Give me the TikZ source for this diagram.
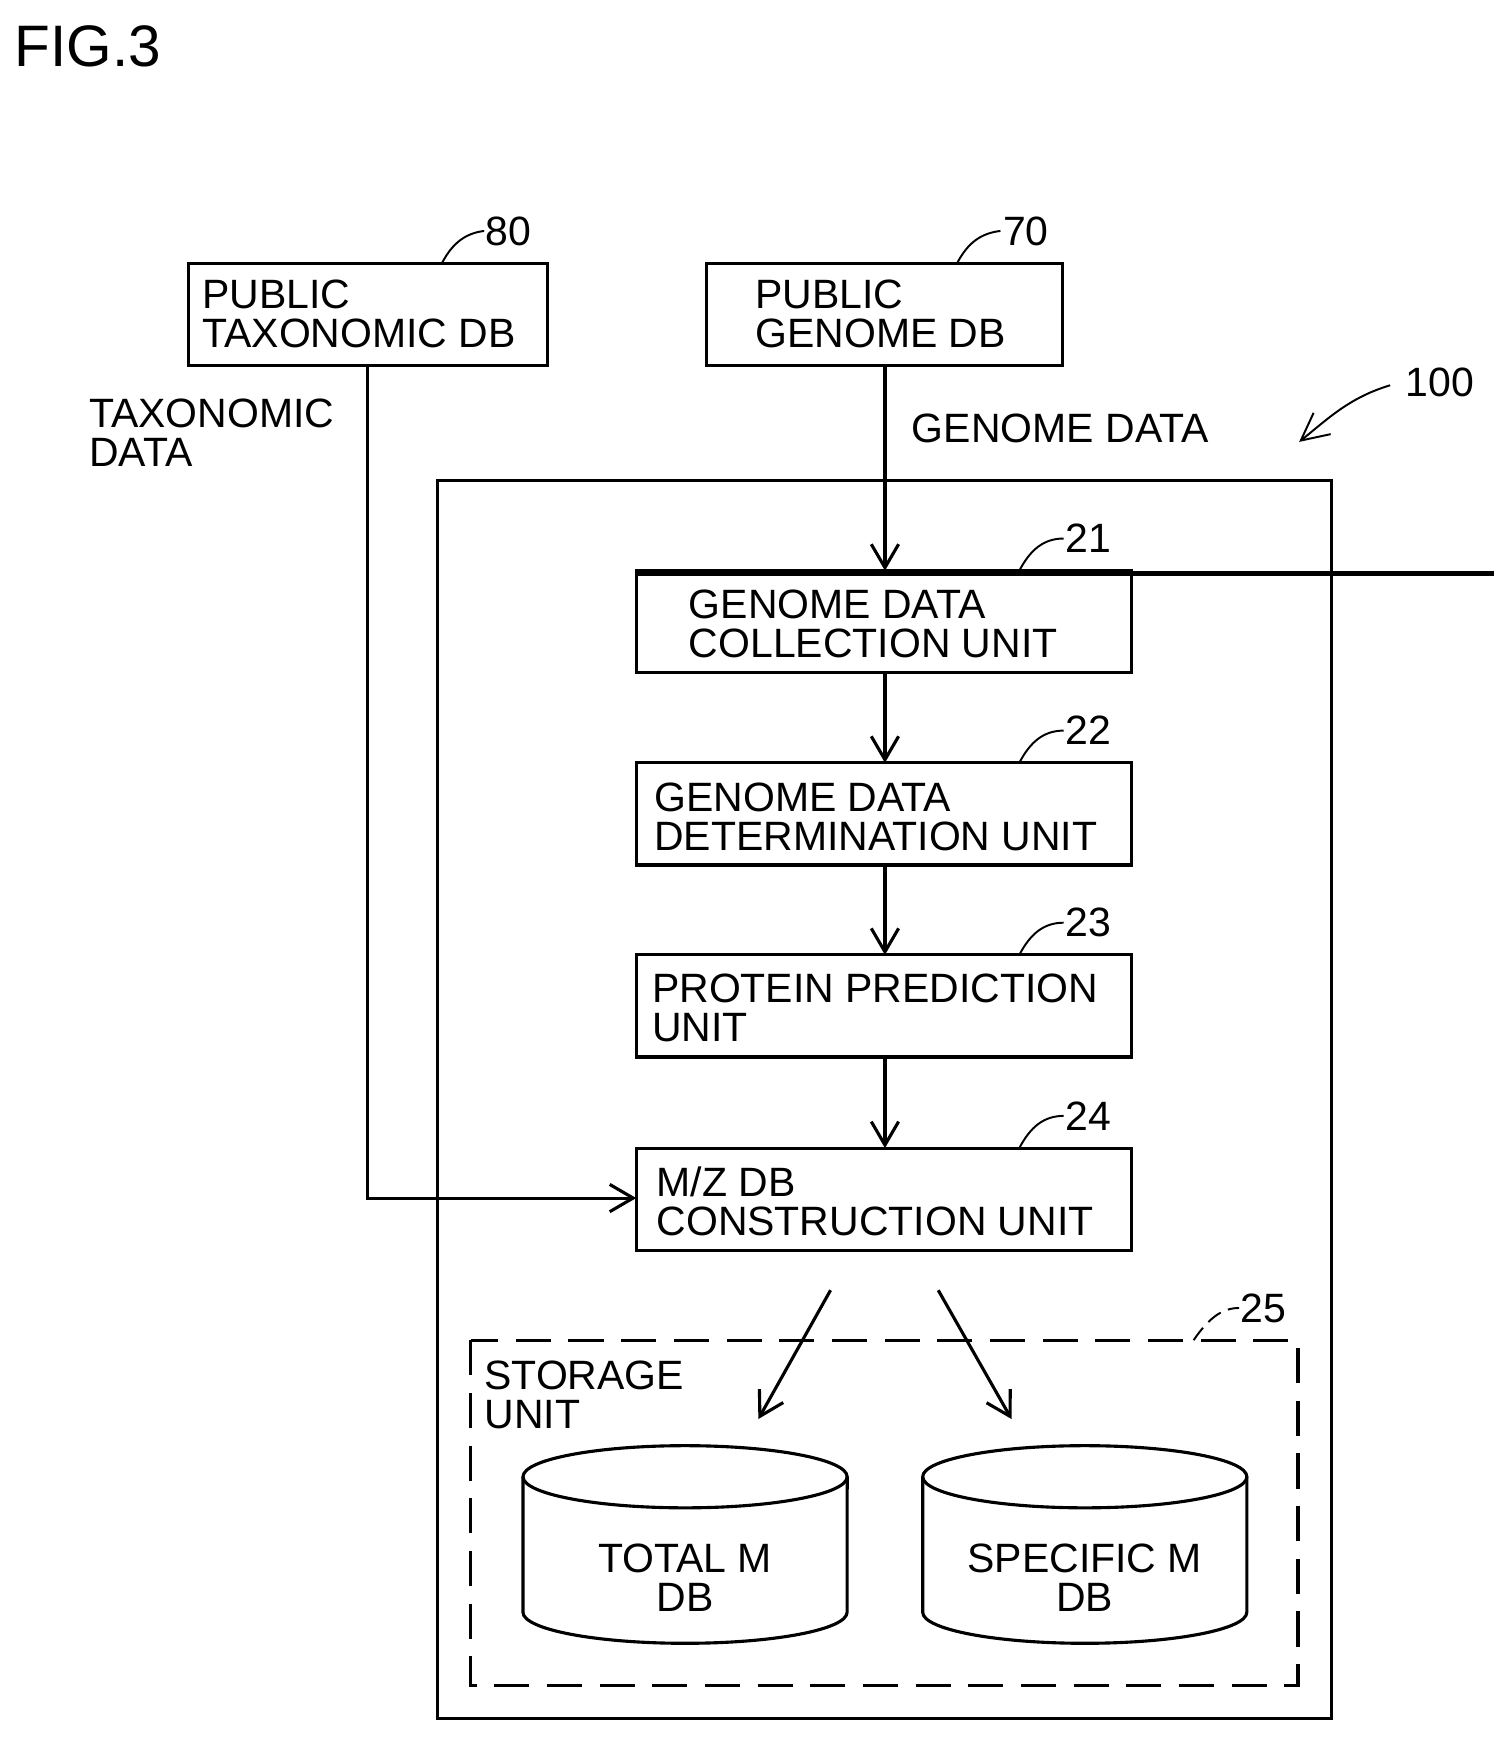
\documentclass[tikz,border=0pt]{standalone}
\usepackage{fontspec}
\setmainfont{Liberation Sans}
\usetikzlibrary{arrows.meta}
\begin{document}
\begin{tikzpicture}[x=0.02cm,y=-0.02cm,
  lw/.style={line width=1.6pt},
  box/.style={draw,lw,rectangle,inner sep=0pt},
  txt/.style={font=\fontsize{21}{20}\selectfont,inner sep=0pt,align=left},
  ref/.style={font=\fontsize{21}{20}\selectfont,inner sep=0pt},
  arr/.style={lw,-{Straight Barb[length=12pt,width=14pt,line width=1.6pt]}},
  lead/.style={line width=1pt}]
\useasboundingbox (0,0) rectangle (1345,1568);
\node[anchor=west,font=\fontsize{30}{30}\selectfont,inner sep=0pt] (fig) at (13,42) {FIG.3};
% top boxes
\draw[lw] (170,237) rectangle (493,329);
\coordinate (b80s) at (331,329);
\node[txt,anchor=west] (t80) at (182,283) {PUBLIC\\TAXONOMIC DB};
\draw[lw] (636,237) rectangle (957,329);
\coordinate (b70s) at (797,329);
\node[txt,anchor=west] (t70) at (680,283) {PUBLIC\\GENOME DB};
\node[ref] (n80) at (458,208) {80};
\node[ref] (n70) at (924,208) {70};
\coordinate (l80a) at (398,237); \coordinate (l80b) at (436,208);
\draw[lead] (l80a) .. controls (408,218) and (420,210) .. (l80b);
\coordinate (l70a) at (862,237); \coordinate (l70b) at (901,208);
\draw[lead] (l70a) .. controls (872,218) and (884,210) .. (l70b);
\node[ref] (n100) at (1297,344) {100};
\coordinate (a100s) at (1252,347); \coordinate (a100e) at (1170,398);
\draw[line width=1pt,-{Straight Barb[length=14pt,width=14pt,line width=1pt]}] (a100s) .. controls (1215,358) and (1195,378) .. (a100e);
\node[txt,anchor=west] (taxd) at (80,390) {TAXONOMIC\\DATA};
\node[txt,anchor=west] (gend) at (821,386) {GENOME DATA};
% outer
\draw[lw] (394,433) rectangle (1199,1548);
% units
\node[box,minimum width=446\pgflinewidth,anchor=north west] (u21) at (573,514) {};
\draw[lw] (573,514) rectangle (1019,606);
\coordinate (u21n) at (797,514); \coordinate (u21s) at (797,606);
\node[txt,anchor=west] (t21) at (620,562) {GENOME DATA\\COLLECTION UNIT};
\draw[lw] (573,687) rectangle (1019,779);
\coordinate (u22n) at (797,687); \coordinate (u22s) at (797,779);
\node[txt,anchor=west] (t22) at (589,736) {GENOME DATA\\DETERMINATION UNIT};
\draw[lw] (573,860) rectangle (1019,952);
\coordinate (u23n) at (797,860); \coordinate (u23s) at (797,952);
\node[txt,anchor=west] (t23) at (587,908) {PROTEIN PREDICTION\\UNIT};
\draw[lw] (573,1034) rectangle (1019,1126);
\coordinate (u24n) at (797,1034); \coordinate (u24w) at (573,1079);
\node[txt,anchor=west] (t24) at (591,1082) {M/Z DB\\CONSTRUCTION UNIT};
\foreach \n/\y in {21/485,22/658,23/831,24/1005}{
  \node[ref] (r\n) at (980,\y) {\n};
  \draw[lead] (918,\y+29) .. controls (928,\y+10) and (940,\y) .. (958,\y);
}
\draw[arr] (b70s) -- (u21n);
\draw[arr] (u21s) -- (u22n);
\draw[arr] (u22s) -- (u23n);
\draw[arr] (u23s) -- (u24n);
\draw[arr] (b80s) |- (u24w);
% storage
\draw[lw,dash pattern=on 18pt off 9pt] (424,1207) rectangle (1169,1518);
\node[ref] (r25) at (1138,1178) {25};
\draw[lead,dash pattern=on 8pt off 4pt] (1075,1207) .. controls (1088,1188) and (1100,1178) .. (1116,1178);
\node[txt,anchor=west] (tsu) at (436,1256) {STORAGE\\UNIT};
\coordinate (s1a) at (748,1162); \coordinate (s1b) at (683,1278);
\coordinate (s2a) at (845,1162); \coordinate (s2b) at (911,1278);
\draw[arr] (s1a) -- (s1b);
\draw[arr] (s2a) -- (s2b);
% cylinders
\foreach \cx/\nm/\lab in {617/c1/TOTAL M/Z,977/c2/SPECIFIC M/Z}{
  \draw[lw] (\cx,1330) ellipse [x radius=2.92cm,y radius=0.56cm];
  \draw[lw] (\cx-146,1330) -- (\cx-146,1452) arc[start angle=180,end angle=360,x radius=2.92cm,y radius=0.56cm] -- (\cx+146,1330);
  \node[txt,align=center] (\nm) at (\cx,1421) {\lab\\DB};
}
\end{tikzpicture}
\end{document}
